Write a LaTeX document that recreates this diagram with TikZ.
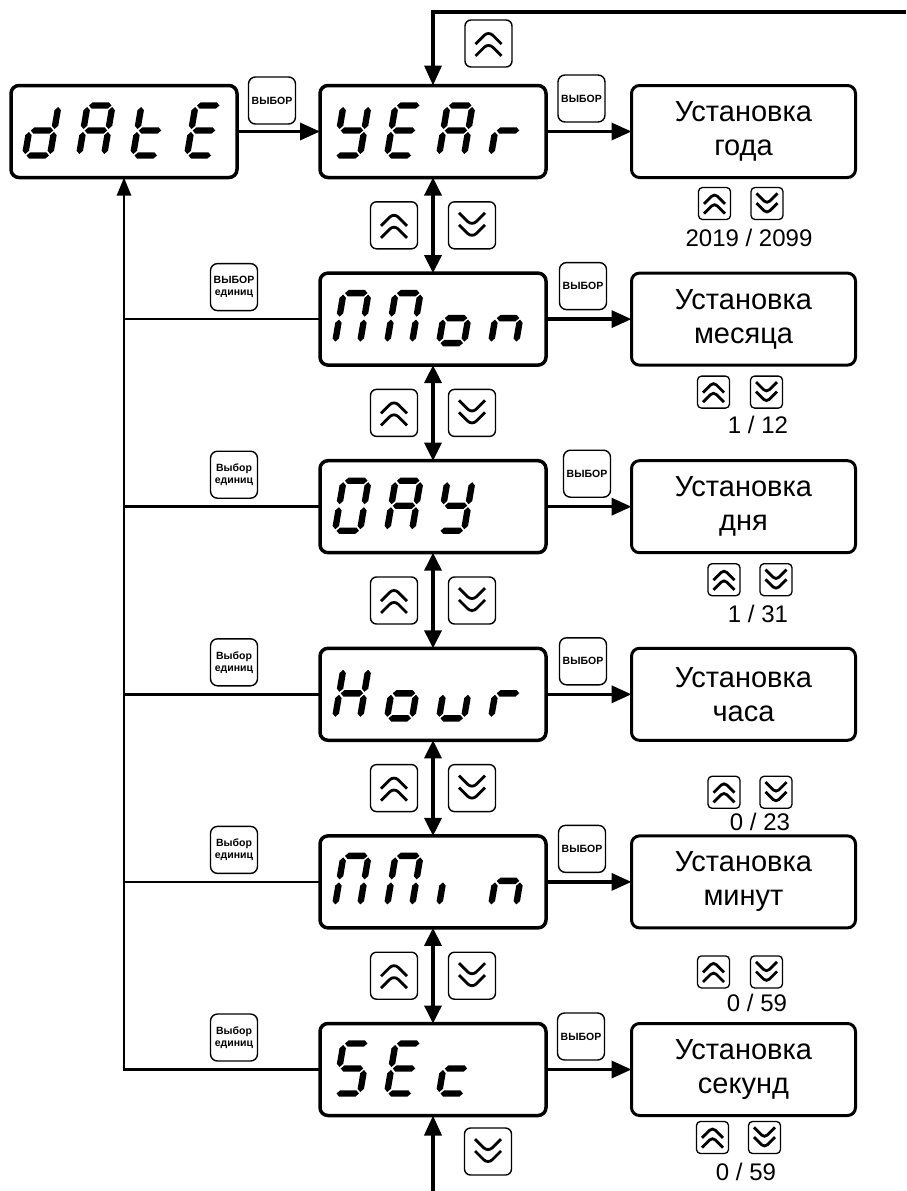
\documentclass[tikz,border=0pt]{standalone}
\usepackage{fontspec}
\setmainfont{Liberation Sans}
\usetikzlibrary{arrows.meta,calc,positioning}

% seven-segment glyph parts (local units, y up)
\newcommand{\hseg}[1]{\fill (1.5,#1) -- ++(3.2,3.2) -- ++(16.1,0) -- ++(3.2,-3.2) -- ++(-3.2,-3.2) -- ++(-16.1,0) -- cycle;}
\newcommand{\vseg}[2]{\fill (#1,#2+1.5) -- ++(3.2,3.2) -- ++(0,15.6) -- ++(-3.2,3.2) -- ++(-3.2,-3.2) -- ++(0,-15.6) -- cycle;}
\newcommand{\lcdseg}[1]{%
  \if#1a\hseg{50}\fi
  \if#1b\vseg{25}{25}\fi
  \if#1c\vseg{25}{0}\fi
  \if#1d\hseg{0}\fi
  \if#1e\vseg{0}{0}\fi
  \if#1f\vseg{0}{25}\fi
  \if#1g\hseg{25}\fi}
% #1 display node, #2 first offset, #3 pitch, #4 characters
\newcommand{\lcdword}[4]{%
  \foreach \ch [count=\k from 0] in {#4}{
    \begin{scope}[shift={(#1.south west)},shift={(#2+#3*\k,-22)},xslant=0.17,y=1pt]
      \foreach \s in \ch {\lcdseg{\s}}
    \end{scope}}}

\begin{document}
\begin{tikzpicture}[
  x=1pt,y=-1pt,
  lcd/.style={draw,line width=3.5pt,rounded corners=8pt,minimum width=226pt,minimum height=92pt,inner sep=0pt,outer sep=0pt},
  setbox/.style={draw,line width=3pt,rounded corners=8pt,minimum width=224pt,minimum height=92pt,outer sep=0pt,align=center,font=\fontsize{29}{34}\selectfont},
  keysel/.style={draw,line width=1.4pt,rounded corners=7pt,minimum size=47pt,inner sep=0pt,align=center,font=\bfseries\fontsize{10.5}{12}\selectfont},
  bigkey/.style={draw,line width=1.4pt,rounded corners=6pt,minimum size=47pt,inner sep=0pt},
  smallkey/.style={draw,line width=1.3pt,rounded corners=4pt,minimum size=32pt,inner sep=0pt},
  kup/.style={path picture={
    \draw[line width=2.8pt,line join=miter] ([shift={(-#1,0.04*#1)}]path picture bounding box.center) -- ++(#1,-#1) -- ++(#1,#1);
    \draw[line width=2.8pt,line join=miter] ([shift={(-#1,0.96*#1)}]path picture bounding box.center) -- ++(#1,-#1) -- ++(#1,#1);}},
  kdown/.style={path picture={
    \draw[line width=2.8pt,line join=miter] ([shift={(-#1,-0.96*#1)}]path picture bounding box.center) -- ++(#1,#1) -- ++(#1,-#1);
    \draw[line width=2.8pt,line join=miter] ([shift={(-#1,-0.04*#1)}]path picture bounding box.center) -- ++(#1,#1) -- ++(#1,-#1);}},
  rng/.style={inner sep=0pt,font=\fontsize{24}{28}\selectfont},
  arr/.style={-{Triangle[length=20pt,width=17pt]},line width=3.5pt},
  darr/.style={{Triangle[length=18pt,width=17pt]}-{Triangle[length=18pt,width=17pt]},line width=3.5pt},
  loopline/.style={line width=2.5pt},
  looparr/.style={-{Triangle[length=18pt,width=14pt]},line width=2.5pt}
]
\useasboundingbox (0,0) rectangle (906,1191);

% displays
\node[lcd] (date) at (124,131.5) {};
\node[lcd,right=83pt of date] (year) {};
\node[lcd,below=95.6pt of year] (mon) {};
\node[lcd,below=95.6pt of mon] (day) {};
\node[lcd,below=95.6pt of day] (hour) {};
\node[lcd,below=95.6pt of hour] (min) {};
\node[lcd,below=95.6pt of min] (sec) {};
\lcdword{date}{14}{54}{{b,c,d,e,g},{a,b,c,e,f,g},{d,e,f,g},{a,d,e,f,g}}
\lcdword{year}{15}{52}{{b,c,d,f,g},{a,d,e,f,g},{a,b,c,e,f,g},{e,g}}
\lcdword{mon}{15}{52}{{a,b,c,e,f},{a,b,c,e,f},{c,d,e,g},{c,e,g}}
\lcdword{day}{15}{52}{{a,b,c,d,e,f},{a,b,c,e,f,g},{b,c,d,f,g}}
\lcdword{hour}{15}{52}{{b,c,e,f,g},{c,d,e,g},{c,d,e},{e,g}}
\lcdword{min}{15}{52}{{a,b,c,e,f},{a,b,c,e,f},{e},{c,e,g}}
\lcdword{sec}{15}{52}{{a,c,d,f,g},{a,d,e,f,g},{d,e,g}}

% setting boxes
\node[setbox,right=85.5pt of year] (setyear) {Установка\\года};
\node[setbox,right=85.5pt of mon] (setmon) {Установка\\месяца};
\node[setbox,right=85.5pt of day] (setday) {Установка\\дня};
\node[setbox,right=85.5pt of hour] (sethour) {Установка\\часа};
\node[setbox,right=85.5pt of min] (setmin) {Установка\\минут};
\node[setbox,right=85.5pt of sec] (setsec) {Установка\\секунд};

% select keys
\path (date.east) ++(35,-31) node[keysel] (seldate) {ВЫБОР};
\path (year.east) ++(35.5,-33) node[keysel] (selyear) {ВЫБОР};
\path (mon.east) ++(37,-33) node[keysel] (selmon) {ВЫБОР};
\path (day.east) ++(41,-33) node[keysel] (selday) {ВЫБОР};
\path (hour.east) ++(37,-33) node[keysel] (selhour) {ВЫБОР};
\path (min.east) ++(36,-33) node[keysel] (selmin) {ВЫБОР};
\path (sec.east) ++(35,-33) node[keysel] (selsec) {ВЫБОР};

% unit keys on the return line
\path (mon.west) ++(-86,-32) node[keysel] (unitmon) {ВЫБОР\\единиц};
\path (day.west) ++(-86,-32) node[keysel] (unitday) {Выбор\\единиц};
\path (hour.west) ++(-86,-32) node[keysel] (unithour) {Выбор\\единиц};
\path (min.west) ++(-86,-32) node[keysel] (unitmin) {Выбор\\единиц};
\path (sec.west) ++(-86,-32) node[keysel] (unitsec) {Выбор\\единиц};

% up/down keys between displays
\path (year.north) ++(55.5,-42) node[bigkey,kup=13] (uptop) {};
\path ($(year.south)!.5!(mon.north)$) node[bigkey,kup=13,xshift=-39pt] (up1) {} node[bigkey,kdown=13,xshift=39pt] (dn1) {};
\path ($(mon.south)!.5!(day.north)$) node[bigkey,kup=13,xshift=-39pt] (up2) {} node[bigkey,kdown=13,xshift=39pt] (dn2) {};
\path ($(day.south)!.5!(hour.north)$) node[bigkey,kup=13,xshift=-39pt] (up3) {} node[bigkey,kdown=13,xshift=39pt] (dn3) {};
\path ($(hour.south)!.5!(min.north)$) node[bigkey,kup=13,xshift=-39pt] (up4) {} node[bigkey,kdown=13,xshift=39pt] (dn4) {};
\path ($(min.south)!.5!(sec.north)$) node[bigkey,kup=13,xshift=-39pt] (up5) {} node[bigkey,kdown=13,xshift=39pt] (dn5) {};
\path (sec.south) ++(55,36) node[bigkey,kdown=13] (dnbot) {};

% ranges under setting boxes
\path (setyear.south) ++(-29,26) node[smallkey,kup=10.5] (upyear) {} ++(52.5,0) node[smallkey,kdown=10.5] (dnyear) {};
\path (setyear.south) ++(5.5,60) node[rng] (rngyear) {2019 / 2099};
\path (setmon.south) ++(-30,27) node[smallkey,kup=10.5] (upmon) {} ++(53,0) node[smallkey,kdown=10.5] (dnmon) {};
\path (setmon.south) ++(14.5,60) node[rng] (rngmon) {1 / 12};
\path (setday.south) ++(-19.5,27) node[smallkey,kup=10.5] (upday) {} ++(52,0) node[smallkey,kdown=10.5] (dnday) {};
\path (setday.south) ++(14.5,61) node[rng] (rngday) {1 / 31};
\path (sethour.south) ++(-19.5,52) node[smallkey,kup=10.5] (uphour) {} ++(52,0) node[smallkey,kdown=10.5] (dnhour) {};
\path (sethour.south) ++(16.5,82) node[rng] (rnghour) {0 / 23};
\path (setmin.south) ++(-30,44) node[smallkey,kup=10.5] (upmin) {} ++(53,0) node[smallkey,kdown=10.5] (dnmin) {};
\path (setmin.south) ++(13.5,75) node[rng] (rngmin) {0 / 59};
\path (setsec.south) ++(-31,22) node[smallkey,kup=10.5] (upsec) {} ++(52,0) node[smallkey,kdown=10.5] (dnsec) {};
\path (setsec.south) ++(2.5,56) node[rng] (rngsec) {0 / 59};

% connectors
\coordinate (topin) at (906,12);
\coordinate (botin) at (433,1191);
\draw[arr] (date) -- (year);
\draw[arr] (topin) -| (year.north);
\draw[arr] (botin) -- (sec.south);
\draw[arr] (year) -- (setyear);
\draw[arr] (mon) -- (setmon);
\draw[arr] (day) -- (setday);
\draw[arr] (hour) -- (sethour);
\draw[arr] (min) -- (setmin);
\draw[arr] (sec) -- (setsec);
\draw[darr] (year) -- (mon);
\draw[darr] (mon) -- (day);
\draw[darr] (day) -- (hour);
\draw[darr] (hour) -- (min);
\draw[darr] (min) -- (sec);
\draw[looparr] (sec.west) -| (date.south);
\draw[loopline] (mon.west) -- (mon.west -| date.south);
\draw[loopline] (day.west) -- (day.west -| date.south);
\draw[loopline] (hour.west) -- (hour.west -| date.south);
\draw[loopline] (min.west) -- (min.west -| date.south);
\end{tikzpicture}
\end{document}
